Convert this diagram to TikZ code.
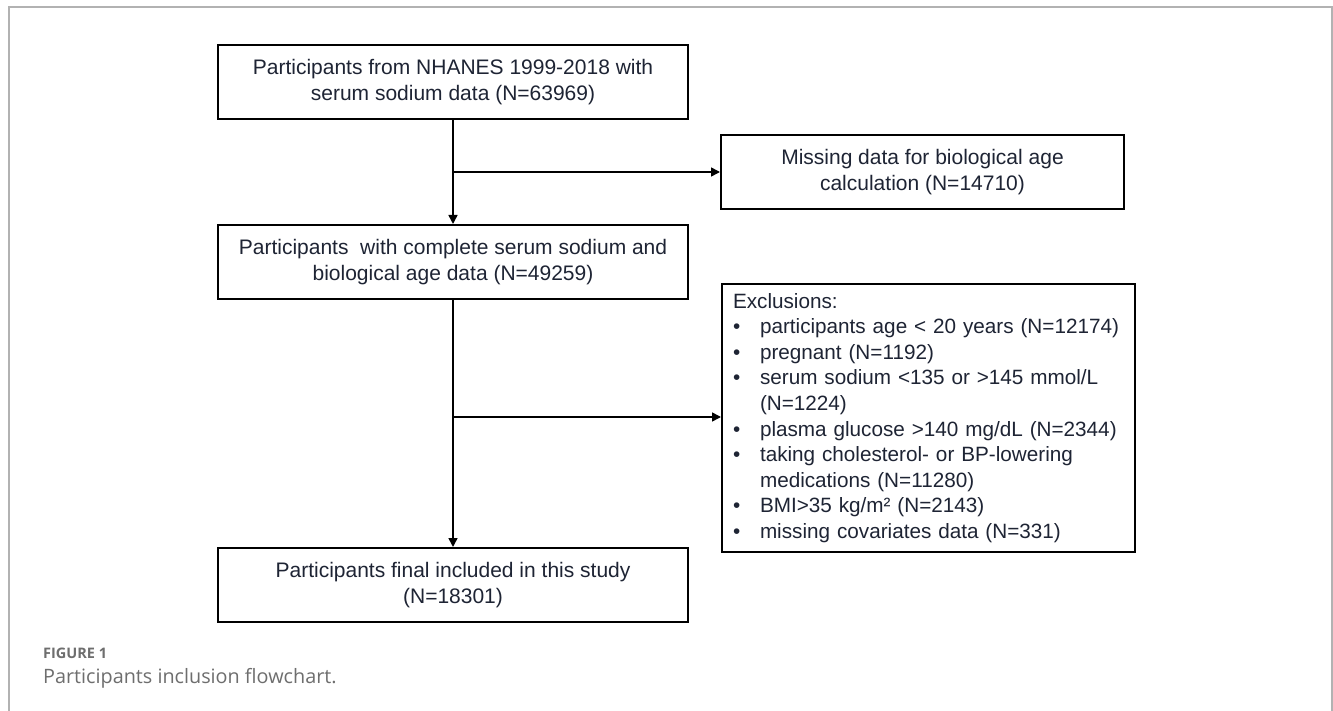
\documentclass[tikz,border=0pt]{standalone}
\usepackage{fontspec}
\setmainfont{Liberation Sans}
\newfontfamily\capfont{Open Sans}
\usetikzlibrary{arrows.meta}
\definecolor{txt}{RGB}{30,36,52}
\definecolor{frame}{RGB}{178,178,178}
\definecolor{capgray}{RGB}{110,110,110}
\tikzset{
  box/.style={draw=black, line width=2pt, fill=white, text=txt, align=center,
    minimum width=470pt, minimum height=74pt, inner sep=0pt,
    font=\fontsize{21}{26}\selectfont},
  sidebox/.style={box, minimum width=403pt},
  conn/.style={draw=black, line width=1.6pt},
  arr/.style={conn, -{Triangle[length=9pt,width=9pt]}}
}
\begin{document}
\begin{tikzpicture}[x=1pt,y=-1pt]
\useasboundingbox (0,0) rectangle (1333,711);
\fill[white] (0,0) rectangle (1333,711);
\draw[frame, line width=2pt] (9,711) -- (9,7) -- (1332,7) -- (1332,711);

\node[box] (b1) at (453,82) {Participants from NHANES 1999-2018 with\\serum sodium data (N=63969)};
\node[sidebox] (b2) at (922.5,172) {Missing data for biological age\\calculation (N=14710)};
\node[box] (b3) at (453,262) {Participants\ \ with complete serum sodium and\\biological age data (N=49259)};
\node[box] (b5) at (453,585) {Participants final included in this study\\(N=18301)};
\node[sidebox, anchor=north west, minimum height=268pt, align=left, text width=391pt, inner xsep=11pt, inner ysep=0pt,
  font=\fontsize{20.7}{25.6}\selectfont] (b4) at (721,283) {%
Exclusions:\\
\makebox[27pt][l]{•}participants age < 20 years (N=12174)\\
\makebox[27pt][l]{•}pregnant (N=1192)\\
\makebox[27pt][l]{•}serum sodium <135 or >145 mmol/L\\
\hspace*{27pt}(N=1224)\\
\makebox[27pt][l]{•}plasma glucose >140 mg/dL (N=2344)\\
\makebox[27pt][l]{•}taking cholesterol- or BP-lowering\\
\hspace*{27pt}medications (N=11280)\\
\makebox[27pt][l]{•}BMI>35 kg/m² (N=2143)\\
\makebox[27pt][l]{•}missing covariates data (N=331)};

\coordinate (j1) at (b1.south |- b2.west);
\coordinate (j2) at (453,417);
\draw[arr] (b1.south) -- (b3.north);
\draw[arr] (j1) -- (b2.west);
\draw[arr] (b3.south) -- (b5.north);
\draw[arr] (j2) -- (j2 -| b4.west);

\node[anchor=base west, inner sep=0pt, text=capgray, font=\capfont\bfseries\fontsize{14.5}{16}\selectfont] (cap1) at (43,658) {FIGURE 1};
\node[anchor=base west, inner sep=0pt, text=capgray, font=\capfont\fontsize{19.8}{22}\selectfont] (cap2) at (43,683) {Participants inclusion flowchart.};
\end{tikzpicture}
\end{document}
